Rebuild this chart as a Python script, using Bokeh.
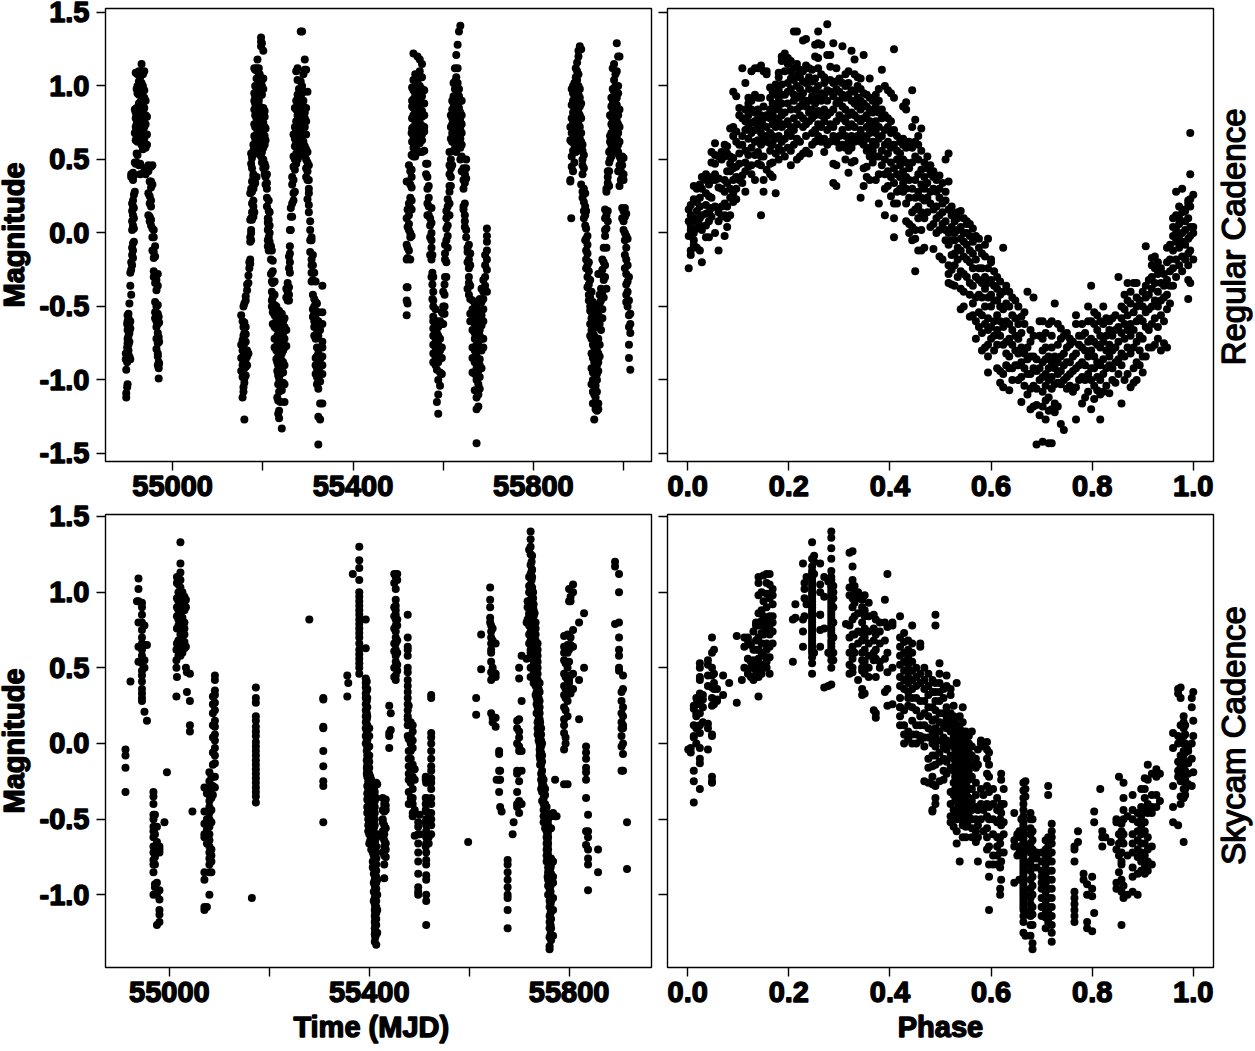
from math import pi

from bokeh.core.properties import value
from bokeh.embed import file_html
from bokeh.layouts import column, row
from bokeh.models import ColumnDataSource, FixedTicker, PrintfTickFormatter
from bokeh.plotting import figure
from bokeh.resources import INLINE

# every entry is (time or phase, [magnitudes at that x])
regular_time_1 = [
    (54896, [-0.86, -0.82]), (54897, [-1.12, -1.09, -0.93]), (54899, [-1.05, -0.88, -0.85, -0.78, -0.62]),
    (54900, [-1.03, -0.75, -0.72, -0.66, -0.60, -0.56]), (54902, [-0.86, -0.80, -0.76, -0.70, -0.64, -0.58, -0.55]),
    (54904, [-0.84, -0.74, -0.68, -0.62, -0.48]), (54906, [-0.86, -0.65, -0.60, -0.36, -0.27]),
    (54908, [-0.42, -0.25, -0.20, 0.40, 0.38]), (54910, [-0.22, -0.15, -0.10, 0.02, 0.08, 0.15, 0.20]),
    (54912, [-0.17, -0.12, -0.07, 0.05, 0.12, 0.18, 0.22, 0.36, 0.41]), (54914, [-0.06, 0.03, 0.10, 0.17, 0.26, 0.39]),
    (54916, [0.28, 0.48, 0.68, 0.84]), (54918, [0.47, 0.63, 0.72, 0.78, 0.82, 1.09]),
    (54920, [0.48, 0.54, 0.66, 0.70, 0.74, 0.79, 0.85, 0.98, 1.09]), (54922, [0.53, 0.62, 0.68, 0.72, 0.76, 0.81, 0.95, 1.00, 1.08]),
    (54925, [0.46, 0.64, 0.69, 0.73, 0.77, 0.83, 0.88, 0.94, 1.03, 1.10]), (54928, [0.40, 0.47, 0.62, 0.66, 0.71, 0.75, 0.80, 0.89, 0.98, 1.06]),
    (54931, [0.60, 0.68, 0.73, 0.78, 0.84, 0.90, 0.96, 1.02, 1.10, 1.15]), (54934, [0.57, 0.66, 0.70, 0.76, 0.82, 0.88, 0.93, 1.00, 1.08]),
    (54937, [0.42, 0.59, 0.64, 0.72, 0.78, 0.85, 0.92, 0.97, 1.10]), (54940, [0.40, 0.44, 0.58, 0.67, 0.74, 0.80, 0.90]),
    (54943, [0.43, 0.60, 0.67, 0.79]), (54946, [0.46, 0.42, 0.12, 0.27]), (54949, [0.35, 0.25, 0.20, 0.11, 0.08]),
    (54952, [0.45, 0.35, 0.31, 0.22, 0.18, 0.09, 0.05]), (54955, [0.46, 0.33, 0.03, -0.03, -0.12]),
    (54958, [0.02, -0.03, -0.13, -0.17, -0.26, -0.30]), (54961, [-0.09, -0.16, -0.29, -0.34, -0.47, -0.54, -0.58]),
    (54964, [-0.32, -0.39, -0.50, -0.60, -0.64, -0.72, -0.79]), (54967, [-0.28, -0.36, -0.49, -0.55, -0.62, -0.68, -0.75, -0.82, -0.84, -0.90]),
    (54969, [-0.99, -0.92, -0.88, -0.71, -0.57]), (54970, [-0.61, -0.74, -0.89]),
]
regular_time_2 = [
    (55152, [-0.56, -0.76, -0.85, -0.94]), (55155, [-1.12, -0.98, -0.90, -0.80, -0.73, -0.60]),
    (55157, [-1.08, -1.05, -0.96, -0.88, -0.84, -0.78, -0.70, -0.64, -0.50]), (55159, [-1.27, -1.02, -0.99, -0.92, -0.82, -0.75, -0.68, -0.61, -0.48]),
    (55162, [-0.97, -0.91, -0.86, -0.80, -0.74, -0.69, -0.64, -0.46, -0.43]), (55165, [-0.90, -0.84, -0.80, -0.39, -0.35]),
    (55168, [-0.82, -0.34, -0.29]), (55170, [-0.24, -0.20]), (55172, [-0.21, -0.18, -0.06, -0.03, 0.09, 0.27]),
    (55174, [-0.05, 0.00, 0.02, 0.10, 0.30, 0.47, 0.54]), (55176, [0.09, 0.14, 0.20, 0.28, 0.35, 0.44, 0.51]),
    (55179, [0.11, 0.18, 0.22, 0.30, 0.38, 0.40, 0.56, 0.60]), (55181, [0.14, 0.33, 0.37, 0.58, 0.66, 0.74, 0.84, 0.90, 0.95, 1.12]),
    (55183, [0.34, 0.58, 0.64, 0.72, 0.80, 0.88, 0.93, 1.00, 1.11]), (55186, [0.38, 0.62, 0.67, 0.73, 0.78, 0.83, 0.90, 0.96, 1.05, 1.12]),
    (55188, [0.54, 0.60, 0.65, 0.70, 0.76, 0.84, 0.87, 0.92, 0.98, 1.10, 1.18]), (55191, [0.58, 0.63, 0.68, 0.72, 0.77, 0.81, 0.90, 0.95, 1.03, 1.12]),
    (55193, [0.56, 0.61, 0.66, 0.71, 0.75, 0.80, 0.86, 0.93, 1.00, 1.08]), (55196, [0.52, 0.60, 0.65, 0.70, 0.74, 0.82, 0.96, 1.05, 1.33, 1.30, 1.27]),
    (55198, [0.48, 0.55, 0.62, 0.68, 0.73, 0.78, 0.94, 1.00, 1.04, 1.29]), (55201, [0.44, 0.50, 0.58, 0.64, 0.69, 0.75, 0.80, 0.85, 0.98, 1.05, 1.24]),
    (55204, [0.40, 0.47, 0.60, 0.66, 0.72, 0.79, 0.83]), (55206, [0.33, 0.38, 0.45, 0.63, 0.71]), (55209, [0.18, 0.24, 0.30, 0.34, 0.40]),
    (55211, [0.10, 0.07, 0.02, -0.05, -0.09]), (55213, [0.22, 0.15, 0.09, 0.04, -0.03, -0.10, -0.12]), (55215, [0.14, 0.05, 0.00, -0.06, -0.11]),
    (55218, [-0.09, -0.18, -0.28]), (55220, [-0.12, -0.27, -0.33, -0.40, -0.46, -0.50]), (55222, [-0.19, -0.26, -0.34, -0.44, -0.54, -0.62]),
    (55226, [-0.33, -0.42, -0.49, -0.56, -0.64, -0.72, -0.78]), (55230, [-0.50, -0.58, -0.65, -0.80, -0.86]),
    (55232, [-0.55, -0.62, -0.70, -0.76, -0.88, -0.94, -1.12]), (55234, [-0.58, -0.66, -0.72, -0.84, -0.90, -0.97, -1.03, -1.14, -1.23]),
    (55236, [-0.53, -0.62, -0.74, -0.80, -0.86, -0.92, -0.99, -1.08, -1.21, -1.26]), (55239, [-0.60, -0.66, -0.78, -0.84, -0.90, -0.96, -1.02, -1.15]),
    (55242, [-0.55, -0.62, -0.70, -0.82, -0.87, -0.93, -1.07, -1.33]), (55245, [-0.60, -0.68, -0.74, -0.80, -0.88, -0.95, -1.02]),
    (55248, [-0.58, -0.64, -0.72, -0.78, -0.90, -1.03, -1.15]), (55252, [-0.38, -0.44, -0.66, -0.77]),
    (55255, [-0.34, -0.40, -0.46]), (55258, [-0.37, -0.42, -0.46, -0.24, -0.16]), (55260, [-0.27, -0.20, -0.09, -0.14, 0.02]),
    (55262, [0.11, 0.17, 0.02]), (55265, [0.20, 0.11, 0.33, 0.38]), (55268, [0.22, 0.27, 0.36, 0.45, 0.52, 0.67]),
    (55271, [0.28, 0.43, 0.50, 0.59, 0.64, 0.72, 0.85]), (55274, [0.47, 0.54, 0.62, 0.70, 0.76, 0.84, 0.90, 1.10]),
    (55277, [0.50, 0.58, 0.66, 0.74, 0.80, 0.87, 0.94, 1.04, 1.12]), (55280, [0.52, 0.64, 0.69, 0.75, 0.82, 0.88, 0.98]),
    (55284, [0.55, 0.60, 0.68, 0.74, 0.78, 0.84, 0.92, 1.03, 1.37]), (55287, [0.60, 0.66, 0.72, 0.77, 0.83, 0.89, 0.95, 1.00, 1.37]),
    (55290, [0.55, 0.62, 0.68, 0.73, 0.80, 0.86, 0.90, 1.08]), (55293, [0.53, 0.59, 0.72, 0.78, 0.82, 1.11, 1.18]),
    (55296, [0.38, 0.44, 0.50, 0.57, 0.67, 0.76, 0.85, 1.11]), (55299, [0.23, 0.36, 0.42, 0.48, 0.55, 0.96]),
    (55302, [0.14, 0.19, 0.27, 0.30, 0.36, 0.46]), (55305, [0.08, 0.02, -0.05, -0.13]), (55308, [-0.03, -0.05, -0.18, -0.22, -0.27, -0.33]),
    (55311, [-0.15, -0.22, -0.32, -0.42, -0.52, -0.57]), (55314, [-0.27, -0.45, -0.50, -0.55, -0.60, -0.64, -0.70]),
    (55317, [-0.33, -0.47, -0.53, -0.58, -0.72, -0.85, -0.90, -0.96]), (55320, [-0.48, -0.62, -0.68, -0.78, -0.84, -0.92, -0.98, -1.03]),
    (55323, [-0.54, -0.60, -0.70, -0.82, -0.88, -0.94, -1.00, -1.06, -1.25, -1.44]), (55327, [-0.62, -0.66, -0.86, -0.91, -0.96, -1.01, -1.16, -1.27]),
    (55332, [-0.36, -0.54, -0.62, -0.74, -0.78, -0.84, -0.90, -0.96, -1.16]),
]
regular_time_3 = [
    (55519, [-0.56, -0.46, -0.37, -0.18, -0.08, 0.10, 0.35]), (55521, [-0.48, -0.37, -0.17, -0.10, 0.04, 0.16]),
    (55524, [-0.12, 0.02, 0.06, 0.12, 0.20, 0.46]), (55527, [-0.18, -0.03, 0.00, 0.17, 0.24, 0.33, 0.42]),
    (55530, [-0.02, 0.16, 0.22, 0.31, 0.38, 0.43, 0.53, 0.68]), (55531, [0.53, 0.62, 0.71, 0.78, 0.86, 0.90, 0.99]),
    (55534, [0.52, 0.58, 0.66, 0.72, 0.80, 0.85, 0.91, 0.97, 1.04, 1.22]), (55538, [0.52, 0.60, 0.65, 0.70, 0.76, 0.82, 0.88, 0.94, 1.00, 1.08]),
    (55543, [0.56, 0.63, 0.68, 0.74, 0.78, 0.84, 0.90, 0.96, 1.03, 1.20]), (55548, [0.55, 0.61, 0.70, 0.75, 0.81, 0.87, 0.92, 1.00, 1.10, 1.18]),
    (55553, [0.55, 0.63, 0.67, 0.73, 0.79, 0.83, 0.93, 0.98, 1.06, 1.15]), (55558, [0.56, 0.69, 0.72, 0.80, 0.88, 0.97]),
    (55562, [0.47, 0.40]), (55565, [0.38, 0.47, 0.30, 0.12, 0.20]), (55568, [0.32, 0.24, 0.18, 0.12]),
    (55571, [0.10, 0.05, -0.03, -0.15]), (55574, [0.17, 0.07, 0.00, -0.05, -0.10, -0.18, -0.30]), (55576, [-0.15, -0.27, -0.35, -0.45]),
    (55578, [-0.30, -0.40, -0.50, -0.57, -0.46, -0.60, -0.65, -0.70, -0.76, -0.82, -0.88]),
    (55583, [-0.52, -0.63, -0.67, -0.72, -0.78, -0.85, -0.90]), (55586, [-0.60, -0.68, -0.74, -0.80, -0.86, -0.93, -1.15]),
    (55589, [-0.64, -0.70, -0.76, -0.82, -0.88, -1.00, -1.10, -1.23]), (55593, [-0.60, -0.72, -0.80, -0.85, -0.95, -1.04]),
    (55597, [-0.54, -0.62, -0.78, -0.96, -0.85]), (55600, [-0.40, -0.50, -0.55, -0.62]), (55603, [-0.35, -0.42, -0.50, -0.55]),
    (55604, [-0.30, -0.18, -0.14, -0.08]), (55607, [-0.30, -0.20, -0.05, 0.03, 0.10, 0.15]), (55610, [-0.10, -0.02, 0.05, 0.12, 0.18, 0.23]),
    (55614, [0.12, 0.20, 0.28, 0.32, 0.40, 0.46, 0.55]), (55617, [0.32, 0.38, 0.44, 0.50, 0.64, 0.72, 0.80]),
    (55620, [0.46, 0.62, 0.68, 0.74, 0.78, 0.84, 0.90]), (55623, [0.56, 0.64, 0.70, 0.76, 0.82, 0.88, 0.93, 1.02]),
    (55626, [0.60, 0.66, 0.72, 0.78, 0.83, 0.90, 0.98, 1.03, 1.12]), (55629, [0.55, 0.62, 0.68, 0.74, 0.80, 0.86, 0.92, 1.00, 1.06, 1.21]),
    (55632, [0.63, 0.70, 0.74, 0.78, 0.84, 0.88, 0.95, 1.02, 1.12, 1.28]), (55635, [0.62, 0.68, 0.72, 0.77, 0.85, 0.93, 0.98, 1.37]),
    (55638, [0.50, 0.58, 0.64, 0.70, 0.76, 0.82, 0.90, 1.41]), (55641, [0.42, 0.52, 0.60, 0.68, 0.74, 0.80, 0.90]),
    (55645, [0.44, 0.36, 0.30, 0.18, 0.16]), (55648, [0.40, 0.34, 0.20, 0.12, 0.08, 0.04]), (55651, [0.50, 0.44, 0.37, 0.02, -0.03]),
    (55654, [-0.10, -0.13, -0.20, -0.38]), (55657, [-0.08, -0.18, -0.24, -0.30, -0.34, -0.42]), (55660, [-0.14, -0.22, -0.36, -0.45, -0.55, -0.60]),
    (55665, [-0.46, -0.52, -0.60, -0.66, -0.78, -0.85, -0.95]), (55670, [-0.48, -0.56, -0.62, -0.68, -0.72, -0.80, -0.88, -0.96, -1.07]),
    (55674, [-0.50, -0.58, -0.65, -0.72, -0.76, -0.84, -0.92, -1.00, -1.12, -1.20, -1.43]), (55678, [-0.54, -0.62, -0.68, -0.74, -0.80, -0.88, -0.94, -1.03, -1.10, -1.18]),
    (55681, [-0.45, -0.55, -0.60, -0.66, -0.70, -0.78, -0.86, -0.90, -0.98, -1.06]), (55685, [-0.38, -0.47, -0.56, -0.63, -0.72, -0.80, -0.92]),
    (55689, [-0.32, -0.40, -0.45, -0.52, -0.60, -0.72, -0.78]), (55693, [-0.15, -0.22, -0.30, -0.36]),
    (55697, [0.03, -0.02, -0.06, -0.12, -0.18, -0.25, -0.40]),
]
regular_time_4 = [
    (55884, [0.10]), (55882, [0.35, 0.36, 0.63, 0.72]), (55885, [0.45, 0.52, 0.62, 0.68, 0.78, 0.87, 0.98]),
    (55888, [0.42, 0.56, 0.64, 0.70, 0.76, 0.82, 0.90, 0.95, 1.00]), (55891, [0.48, 0.60, 0.66, 0.72, 0.79, 0.85, 0.92, 0.96, 1.02]),
    (55894, [0.55, 0.62, 0.68, 0.74, 0.80, 0.87, 0.94, 1.00, 1.06, 1.12]), (55897, [0.58, 0.66, 0.72, 0.78, 0.84, 0.90, 0.98, 1.04, 1.10, 1.16]),
    (55900, [0.62, 0.68, 0.74, 0.82, 0.88, 0.94, 1.00, 1.08, 1.20, 1.24]), (55903, [0.58, 0.64, 0.72, 0.80, 0.86, 0.92, 0.98, 1.27]),
    (55906, [0.33, 0.56, 0.62, 0.68, 0.78, 0.88, 1.25]), (55909, [0.28, 0.24, 0.40, 0.46, 0.50, 0.56, 0.60]),
    (55912, [0.30, 0.21, 0.15, 0.10, 0.44, 0.53]), (55915, [0.27, 0.18, 0.12, 0.05, -0.05]), (55917, [0.15, 0.03, -0.04, -0.12, -0.18, -0.24]),
    (55920, [-0.02, -0.08, -0.14, -0.22, -0.30, -0.37]), (55923, [-0.20, -0.26, -0.35, -0.42, -0.46]),
    (55926, [-0.32, -0.44, -0.50, -0.53, -0.62, -0.70]), (55929, [-0.40, -0.54, -0.58, -0.66, -0.72, -0.82, -0.92, -1.03]),
    (55932, [-0.47, -0.52, -0.60, -0.68, -0.76, -0.85, -0.95, -1.00, -1.08, -1.16]), (55935, [-0.56, -0.62, -0.70, -0.78, -0.82, -0.88, -0.94, -1.02, -1.10, -1.27]),
    (55938, [-0.64, -0.72, -0.80, -0.86, -0.92, -0.98, -1.04, -1.12, -1.20]), (55941, [-0.50, -0.55, -0.74, -0.80, -0.85, -0.90, -0.96, -1.00, -1.08, -1.21]),
    (55944, [-0.28, -0.54, -0.60, -0.72, -0.82, -0.88, -0.94, -1.16, -1.20]), (55947, [-0.42, -0.48, -0.62, -0.76, -0.84]),
    (55950, [-0.28, -0.38, -0.46, -0.58, -0.66]), (55953, [-0.18, -0.25, -0.40, -0.52, -0.58]), (55956, [-0.10, -0.20, -0.32, -0.44]),
    (55959, [0.02, 0.10, 0.16, -0.02, -0.22, -0.30]), (55962, [0.03, 0.12, 0.30, 0.28, -0.10, -0.38]), (55965, [0.08, 0.15, 0.34, 0.42, 0.38]),
    (55968, [0.32, 0.48, 0.42, 0.55]), (55970, [0.50, 0.56, 0.62, 0.66, 0.80]), (55973, [0.52, 0.60, 0.68, 0.74, 0.79, 0.86, 0.92]),
    (55976, [0.54, 0.58, 0.63, 0.72, 0.76, 0.82, 0.88, 0.98, 1.12]), (55979, [0.60, 0.68, 0.74, 0.80, 0.84, 0.90, 0.96, 1.04, 1.15]),
    (55982, [0.66, 0.72, 0.78, 0.83, 0.88, 0.94, 1.00, 1.08]), (55985, [0.58, 0.65, 0.70, 0.76, 0.82, 0.87, 0.92, 1.10, 1.29]),
    (55988, [0.42, 0.55, 0.60, 0.68, 0.74, 0.80, 0.95, 1.00, 1.20]), (55991, [0.46, 0.52, 0.32, 0.62, 0.72, 0.84, 1.20]),
    (55994, [0.36, 0.42, 0.50]), (55997, [0.38, 0.46, 0.52, 0.17, 0.10]), (56000, [0.40, 0.51, 0.36, 0.02, 0.08, 0.15]),
    (56003, [0.17, 0.11, 0.00, -0.05, -0.15, -0.24]), (56006, [0.13, -0.02, -0.10, -0.18, -0.28, -0.35, -0.42, -0.47]),
    (56009, [-0.04, -0.22, -0.33, -0.40, -0.50]), (56012, [-0.30, -0.46, -0.56, -0.64, -0.76, -0.85]),
    (56015, [-0.55, -0.62, -0.68, -0.93]),
]
regular_time = regular_time_1 + regular_time_2 + regular_time_3 + regular_time_4

regular_phase = [
    (0.002, [-0.24, -0.02, 0.08, 0.16]), (0.006, [-0.15, -0.12, 0.02, 0.12, 0.19, 0.05]), (0.012, [0.00, 0.10, 0.23, 0.32, -0.05, -0.08]),
    (0.018, [-0.10, 0.03, 0.08, 0.15, 0.21, 0.30]), (0.024, [-0.12, 0.05, 0.10, 0.18, 0.24, 0.33]), (0.028, [-0.20, 0.02, 0.12, 0.38, 0.30]),
    (0.036, [-0.03, 0.05, 0.13, 0.19, 0.27, 0.36, 0.40]), (0.042, [-0.03, 0.08, 0.14, 0.25, 0.33, 0.38]), (0.047, [0.11, 0.17, 0.24, 0.36, 0.48, 0.55]),
    (0.054, [0.18, 0.00, 0.36, 0.40, 0.47, 0.53, 0.61]), (0.061, [-0.12, 0.08, 0.14, 0.31, 0.37, 0.52]), (0.067, [0.11, 0.18, 0.30, 0.50, 0.55]),
    (0.073, [-0.02, 0.12, 0.20, 0.28, 0.36, 0.52, 0.60]), (0.078, [0.04, 0.10, 0.18, 0.34, 0.42, 0.54, 0.59]), (0.084, [0.12, 0.24, 0.30, 0.42, 0.47, 0.52, 0.71]),
    (0.09, [0.21, 0.27, 0.36, 0.44, 0.51, 0.66, 0.72, 0.96]), (0.096, [0.23, 0.30, 0.38, 0.45, 0.62, 0.69, 0.93]), (0.102, [0.36, 0.47, 0.54, 0.60, 0.80, 0.85]),
    (0.108, [0.34, 0.39, 0.60, 0.66, 0.78, 1.12]), (0.114, [0.28, 0.42, 0.48, 0.56, 0.70, 0.76, 0.84, 1.02]), (0.12, [0.45, 0.53, 0.64, 0.72, 0.80, 0.88, 0.92]),
    (0.126, [0.40, 0.46, 0.58, 0.68, 0.75, 0.84, 0.90, 1.10]), (0.133, [0.36, 0.53, 0.62, 0.70, 0.76, 0.82, 0.94, 1.12]), (0.139, [0.47, 0.55, 0.63, 0.72, 0.78, 0.84, 0.92, 1.12]),
    (0.145, [0.12, 0.46, 0.52, 0.60, 0.68, 0.74, 0.80, 0.92, 1.14]), (0.15, [0.28, 0.36, 0.52, 0.65, 0.73, 0.78, 0.86, 1.10]), (0.156, [0.43, 0.62, 0.66, 0.72, 0.80, 1.08, 1.10]),
    (0.163, [0.40, 0.47, 0.56, 0.61, 0.68, 0.78, 0.84, 0.92, 0.99]), (0.168, [0.38, 0.48, 0.60, 0.66, 0.74, 0.82, 0.88, 0.96]), (0.174, [0.27, 0.54, 0.64, 0.72, 0.78, 0.86, 0.94, 1.01]),
    (0.18, [0.50, 0.58, 0.66, 0.76, 0.84, 0.90, 0.97, 1.09, 1.06]), (0.186, [0.56, 0.62, 0.72, 0.80, 0.88, 0.94, 1.01, 1.20, 1.17]), (0.192, [0.52, 0.64, 0.74, 0.82, 0.94, 1.10, 1.22]),
    (0.198, [0.58, 0.68, 0.76, 0.88, 0.96, 1.02, 1.15, 1.19]), (0.204, [0.46, 0.56, 0.66, 0.72, 0.84, 0.98, 1.05, 1.10, 1.17]), (0.21, [0.60, 0.70, 0.78, 0.90, 0.94, 1.04, 1.12, 1.37]),
    (0.216, [0.50, 0.64, 0.74, 0.84, 0.93, 1.00, 1.07, 1.15, 1.37]), (0.222, [0.52, 0.62, 0.80, 0.86, 0.92, 0.98, 1.06, 1.11]), (0.228, [0.54, 0.72, 0.78, 0.88, 0.95, 1.03, 1.10, 1.31]),
    (0.234, [0.56, 0.66, 0.74, 0.86, 0.90, 1.02, 1.14, 1.32]), (0.24, [0.54, 0.76, 0.82, 0.90, 0.98, 1.06, 1.12]), (0.246, [0.60, 0.68, 0.78, 0.84, 0.93, 1.03, 1.11]),
    (0.252, [0.62, 0.70, 0.80, 0.88, 0.97, 1.05, 1.20, 1.28]), (0.258, [0.66, 0.74, 0.83, 0.92, 1.00, 1.12, 1.19, 1.37, 1.29]), (0.264, [0.62, 0.72, 0.80, 0.90, 0.95, 1.08, 1.28]),
    (0.27, [0.55, 0.64, 0.76, 0.84, 0.94, 1.02, 1.06]), (0.276, [0.60, 0.70, 0.80, 0.90, 0.97, 1.21, 1.42]), (0.282, [0.62, 0.74, 0.82, 0.96, 1.04, 1.21, 1.13]),
    (0.288, [0.47, 0.34, 0.66, 0.72, 0.84, 0.93, 1.02, 1.29]), (0.294, [0.32, 0.46, 0.62, 0.76, 0.88, 0.98, 1.03, 1.12]), (0.3, [0.58, 0.66, 0.80, 0.90, 0.96, 1.05]),
    (0.306, [0.60, 0.70, 0.78, 0.86, 0.94, 1.02, 1.27]), (0.312, [0.50, 0.58, 0.66, 0.76, 0.84, 0.92, 1.00, 1.08]), (0.318, [0.41, 0.56, 0.62, 0.72, 0.80, 0.94, 1.02, 1.10]),
    (0.324, [0.48, 0.58, 0.66, 0.74, 0.82, 0.90, 0.97, 1.24]), (0.33, [0.49, 0.62, 0.72, 0.80, 0.88, 0.96, 1.18, 1.08]), (0.336, [0.66, 0.78, 0.86, 0.92, 1.00, 1.06]),
    (0.342, [0.24, 0.62, 0.70, 0.76, 0.84, 0.90, 0.98, 1.05]), (0.348, [0.44, 0.32, 0.60, 0.66, 0.78, 0.88, 0.95, 1.21]), (0.354, [0.38, 0.45, 0.56, 0.64, 0.72, 0.80, 0.86, 0.94]),
    (0.36, [0.36, 0.52, 0.58, 0.68, 0.76, 0.84, 0.92, 1.05]), (0.366, [0.48, 0.56, 0.62, 0.72, 0.82, 0.90]), (0.372, [0.36, 0.52, 0.60, 0.68, 0.76, 0.86, 0.94]),
    (0.378, [0.20, 0.40, 0.52, 0.64, 0.72, 0.82, 0.90, 0.98]), (0.384, [0.46, 0.56, 0.66, 0.78, 0.84, 1.11]), (0.39, [0.12, 0.30, 0.40, 0.50, 0.60, 0.70, 0.80, 1.00]),
    (0.396, [0.32, 0.42, 0.54, 0.62, 0.72, 0.78, 0.97]), (0.402, [0.25, 0.38, 0.48, 0.58, 0.68, 0.76, 0.95]), (0.408, [-0.03, 0.10, 0.20, 0.34, 0.44, 0.60, 0.70, 0.92, 1.25]),
    (0.414, [0.20, 0.28, 0.40, 0.50, 0.56, 0.66]), (0.42, [0.30, 0.38, 0.46, 0.54, 0.62]), (0.426, [0.28, 0.34, 0.42, 0.50, 0.60, 0.64, 0.86]),
    (0.432, [0.08, 0.20, 0.30, 0.38, 0.48, 0.58, 0.84, 0.89]), (0.438, [0.00, 0.06, 0.24, 0.36, 0.44, 0.62]), (0.444, [0.04, -0.05, 0.14, 0.30, 0.48, 0.58, 0.72, 0.97]),
    (0.45, [-0.26, -0.04, 0.02, 0.16, 0.24, 0.36, 0.52, 0.62, 0.77]), (0.456, [-0.12, 0.10, 0.18, 0.28, 0.40, 0.50, 0.60, 0.66]), (0.462, [-0.12, 0.02, 0.14, 0.24, 0.33, 0.43, 0.56, 0.71]),
    (0.468, [-0.10, 0.10, 0.22, 0.30, 0.38, 0.48]), (0.474, [0.14, 0.24, 0.34, 0.44, 0.52]), (0.48, [0.04, 0.20, 0.28, 0.40, 0.46]),
    (0.486, [-0.11, 0.06, 0.16, 0.30, 0.38, 0.42]), (0.492, [0.00, 0.10, 0.18, 0.28, 0.36]), (0.498, [-0.16, 0.02, 0.12, 0.24, 0.30, 0.39]),
    (0.504, [-0.18, 0.06, 0.14, 0.20, 0.34]), (0.51, [-0.05, 0.02, 0.08, 0.22, 0.28, 0.50]), (0.516, [-0.22, -0.28, -0.34, -0.08, 0.00, 0.16, 0.35, 0.54]),
    (0.522, [-0.15, -0.25, -0.35, -0.05, 0.04, 0.12, 0.18, 0.14]), (0.528, [-0.05, -0.14, -0.22, -0.36, 0.00, 0.08, 0.10]), (0.534, [-0.18, -0.30, -0.10, 0.02, 0.10, 0.14]),
    (0.54, [-0.52, -0.38, -0.26, -0.12, -0.04, 0.04, 0.15]), (0.546, [-0.50, -0.40, -0.28, -0.16, -0.06, 0.00, 0.10]), (0.552, [-0.30, -0.18, -0.08, 0.00, 0.08, 0.06]),
    (0.558, [-0.57, -0.42, -0.34, -0.20, -0.12, -0.02, 0.06]), (0.564, [-0.56, -0.48, -0.36, -0.24, -0.14, -0.06, 0.03]), (0.57, [-0.72, -0.60, -0.44, -0.30, -0.18, -0.02]),
    (0.576, [-0.64, -0.54, -0.42, -0.32, -0.24, -0.10, -0.04]), (0.582, [-0.80, -0.68, -0.56, -0.44, -0.34, -0.24, -0.14]), (0.588, [-0.78, -0.62, -0.50, -0.38, -0.30, -0.16, -0.08]),
    (0.594, [-0.95, -0.84, -0.76, -0.66, -0.58, -0.44, -0.34, -0.24, -0.04]), (0.6, [-0.72, -0.64, -0.50, -0.42, -0.32, -0.20, -0.18]), (0.606, [-0.80, -0.70, -0.60, -0.46, -0.36, -0.26]),
    (0.612, [-0.92, -0.76, -0.66, -0.56, -0.46, -0.38, -0.30]), (0.618, [-1.02, -0.94, -0.70, -0.60, -0.50, -0.42, -0.33]), (0.624, [-1.05, -0.96, -0.76, -0.64, -0.52, -0.40, -0.10]),
    (0.63, [-0.90, -0.82, -0.74, -0.60, -0.48, -0.36]), (0.636, [-1.07, -0.92, -0.84, -0.72, -0.62, -0.50, -0.40]), (0.642, [-1.00, -0.92, -0.76, -0.66, -0.56, -0.44]),
    (0.648, [-0.90, -0.80, -0.70, -0.58, -0.46]), (0.654, [-1.00, -0.90, -0.82, -0.72, -0.62, -0.50]), (0.66, [-1.15, -0.98, -0.88, -0.78, -0.68, -0.57]),
    (0.666, [-1.04, -0.92, -0.82, -0.62, -0.54]), (0.672, [-1.10, -0.96, -0.86, -0.78, -0.40]), (0.678, [-1.20, -1.06, -0.96, -0.84, -0.74, -0.66]),
    (0.684, [-1.18, -1.04, -0.92, -0.84, -0.70, -0.44]), (0.69, [-1.44, -1.17, -1.06, -0.94, -0.86]), (0.696, [-1.24, -1.00, -0.92, -0.70, -0.60]),
    (0.702, [-1.42, -1.18, -1.08, -0.98, -0.88, -0.80, -0.72, -0.60]), (0.708, [-1.27, -1.14, -1.04, -0.96, -0.86, -0.78, -0.68]), (0.714, [-1.43, -1.21, -1.12, -1.00, -0.92, -0.84, -0.62]),
    (0.72, [-1.43, -1.20, -1.06, -0.98, -0.88, -0.78, -0.70, -0.60]), (0.726, [-1.22, -1.16, -1.03, -0.92, -0.84, -0.48]), (0.732, [-1.18, -1.02, -0.96, -0.88, -0.76, -0.62]),
    (0.738, [-1.30, -1.03, -0.94, -0.84, -0.72, -0.65]), (0.744, [-1.34, -1.00, -0.90, -0.82, -0.70]), (0.75, [-1.06, -0.98, -0.88, -0.78, -0.68]),
    (0.756, [-1.04, -0.96, -0.88, -0.76, -0.72]), (0.762, [-1.08, -0.94, -0.84, -0.74]), (0.768, [-1.27, -1.05, -0.92, -0.82, -0.56, -0.62]),
    (0.774, [-1.00, -0.90, -0.76, -0.70]), (0.78, [-1.16, -0.98, -0.88, -0.78, -0.70, -0.62]), (0.786, [-1.12, -1.00, -0.90, -0.80, -0.68]),
    (0.792, [-1.08, -0.96, -0.84, -0.74, -0.60, -0.50]), (0.798, [-1.20, -1.00, -0.92, -0.80, -0.72, -0.60, -0.36]), (0.804, [-1.13, -1.04, -0.92, -0.84, -0.74, -0.62, -0.54]),
    (0.81, [-1.07, -0.98, -0.88, -0.76, -0.66, -0.56]), (0.816, [-1.27, -1.10, -1.00, -0.90, -0.78, -0.70, -0.60]), (0.822, [-1.08, -0.96, -0.86, -0.74, -0.62, -0.50]),
    (0.828, [-1.04, -0.92, -0.80, -0.70, -0.58]), (0.834, [-1.09, -0.90, -0.84, -0.76, -0.66, -0.60]), (0.84, [-1.00, -0.92, -0.80, -0.70, -0.58]),
    (0.846, [-1.02, -0.88, -0.78, -0.66, -0.56]), (0.852, [-0.96, -0.86, -0.74, -0.64, -0.30]), (0.858, [-1.16, -0.90, -0.82, -0.68, -0.58, -0.50]),
    (0.864, [-1.00, -0.84, -0.72, -0.62, -0.52, -0.42]), (0.87, [-0.96, -0.78, -0.66, -0.56, -0.46, -0.34]), (0.876, [-1.05, -0.82, -0.70, -0.62, -0.48, -0.40]),
    (0.882, [-1.02, -0.92, -0.78, -0.66, -0.54, -0.34]), (0.888, [-1.00, -0.88, -0.74, -0.60, -0.50, -0.44, -0.34]), (0.894, [-0.90, -0.80, -0.70, -0.58, -0.46]),
    (0.9, [-0.95, -0.84, -0.72, -0.60, -0.50, -0.40]), (0.906, [-0.09, -0.84, -0.64, -0.54, -0.44, -0.36]), (0.912, [-0.78, -0.66, -0.52, -0.42, -0.32]),
    (0.918, [-0.78, -0.62, -0.50, -0.38, -0.30, -0.22, -0.17]), (0.924, [-0.76, -0.58, -0.46, -0.34, -0.24, -0.16]), (0.93, [-0.72, -0.64, -0.50, -0.40, -0.28, -0.20]),
    (0.936, [-0.80, -0.56, -0.46, -0.34, -0.24]), (0.942, [-0.75, -0.60, -0.44, -0.36, -0.28]), (0.948, [-0.78, -0.52, -0.42, -0.32, -0.20, -0.10]),
    (0.954, [-0.48, -0.36, -0.26, -0.18, -0.08]), (0.96, [-0.36, -0.24, -0.12, -0.02, 0.10, 0.04]), (0.966, [-0.30, -0.18, -0.06, 0.02, 0.12, 0.28]),
    (0.972, [-0.22, -0.10, -0.02, 0.06, 0.10, 0.18]), (0.978, [-0.26, -0.16, -0.06, 0.00, 0.14, 0.30]), (0.984, [-0.18, -0.08, 0.02, 0.08, 0.15, 0.16]),
    (0.99, [-0.45, -0.32, -0.22, -0.14, -0.04, 0.10, 0.20, 0.22]), (0.994, [-0.34, -0.12, -0.02, 0.04, 0.18, 0.23, 0.40, 0.68]), (1.0, [-0.18, 0.00, 0.04, 0.26]),
]

skycam_time = [
    (54912, [-0.04, -0.08, -0.16, -0.32]), (54922, [0.41]), (54935, [0.94]), (54938, [1.09, 1.02, 0.94, 0.80, 0.54, 0.64]),
    (54945, [0.93, 0.90, 0.85, 0.80, 0.75, 0.70, 0.66, 0.62, 0.58, 0.53, 0.48, 0.45, 0.41, 0.36, 0.33, 0.30, 0.28]),
    (54950, [0.78, 0.65, 0.55, 0.50, 0.21]), (54955, [0.65, 0.15]), (54968, [-0.32, -0.35, -0.40, -0.47, -0.50, -0.55, -0.58, -0.62, -0.68, -0.72, -0.77, -0.80, -0.85, -1.00]),
    (54971, [-0.47, -0.55, -0.60, -0.70, -0.75, -0.80, -0.95, -0.93]), (54975, [-0.92, -1.00, -0.70, -0.65, -0.55, -1.20]),
    (54980, [-0.68, -0.70, -0.72, -0.97, -1.03, -1.10, -1.13, -1.18]), (54990, [-0.52]), (54995, [-0.19]),
    (55014, [0.31, 0.50, 0.55, 0.62]), (55015, [0.44, 0.66, 0.76, 0.84, 0.90, 0.96, 1.06, 1.10]), (55018, [0.58, 0.62, 0.68, 0.78, 0.82, 0.88, 0.94, 1.00, 1.05, 1.10]),
    (55022, [0.58, 0.62, 0.66, 0.72, 0.77, 0.82, 0.86, 0.91, 0.95, 0.99, 1.03, 1.08, 1.13, 1.19, 1.33]), (55026, [0.60, 0.64, 0.68, 0.74, 0.78, 0.83, 0.88, 0.92, 0.96, 1.00]),
    (55030, [0.63, 0.67, 0.72, 0.76, 0.80, 0.88, 0.93, 0.97]), (55033, [0.50, 0.64, 0.90, 0.95]), (55035, [0.47, 0.34]), (55041, [0.46, 0.28, 0.12, 0.08]), (55046, [-0.45]),
    (55070, [-1.10, -1.08, -0.90, -0.85, -0.62, -0.60, -0.53, -0.45, -0.29]), (55075, [-0.66, -0.62, -0.57, -0.50, -0.30, -0.33, -1.08]),
    (55080, [-1.00, -0.85, -0.80, -0.76, -0.72, -0.68, -0.64, -0.60, -0.55, -0.50, -0.46, -0.42, -0.38, -0.34, -0.30, -0.25, -0.19]),
    (55084, [-0.85, -0.78, -0.74, -0.70, -0.52, -0.44, -0.36, -0.30, -0.22]), (55087, [-0.28, -0.34, -0.22, -0.14, -0.06, 0.04, 0.12, 0.20, 0.26, 0.31]),
    (55091, [0.45, 0.42, 0.35, 0.32, 0.27, 0.22, 0.15, 0.11, 0.06, 0.02, -0.03, -0.08, -0.13, -0.22, -0.29]),
    (55165, [-1.02]), (55173, [0.37, 0.30, 0.27, 0.18, 0.15, 0.11, 0.08, 0.05, 0.01, -0.02, -0.05, -0.08, -0.11, -0.14, -0.17, -0.20, -0.23, -0.26, -0.29, -0.32, -0.35, -0.39]),
    (55280, [0.82]), (55308, [0.30, 0.29, 0.11, 0.10, -0.05, -0.15, -0.25, -0.28, -0.52]),
    (55356, [0.45, 0.31]), (55358, [0.40]), (55367, [1.12]),
    (55380, [1.30, 1.21, 1.16, 1.08, 1.00, 0.97, 0.94, 0.91, 0.88, 0.85, 0.82, 0.79, 0.76, 0.73, 0.70, 0.66, 0.62, 0.59, 0.56, 0.53, 0.50, 0.46]),
    (55393, [0.82, 0.63, 0.43, 0.40, 0.37, 0.33, 0.30, 0.26, 0.22, 0.18, 0.14, 0.10, 0.05, 0.00]),
    (55395, [0.41, 0.35, 0.28, 0.20, 0.16, 0.08, 0.03, -0.05, -0.11, -0.16, -0.20]),
    (55396, [0.36, 0.30, 0.24, 0.18, 0.12, 0.06, 0.02, -0.03, -0.08, -0.14, -0.18, -0.22, -0.28, -0.33, -0.37, -0.42, -0.46]),
    (55398, [-0.10, -0.15, -0.25, -0.30, -0.34, -0.38, -0.44, -0.50, -0.54, -0.58]),
    (55400, [0.10, 0.05, -0.02, -0.08, -0.12, -0.16, -0.20, -0.24, -0.28, -0.32, -0.36, -0.40, -0.44, -0.48, -0.52, -0.56, -0.60, -0.66]),
    (55402, [-0.22, -0.26, -0.30, -0.36, -0.40, -0.46, -0.50, -0.54, -0.60, -0.64]),
    (55404, [-0.24, -0.28, -0.34, -0.38, -0.42, -0.46, -0.50, -0.54, -0.58, -0.62, -0.66, -0.70]),
    (55407, [-0.26, -0.30, -0.36, -0.40, -0.44, -0.48, -0.52, -0.56, -0.60, -0.64, -0.68, -0.72, -0.78, -0.82]),
    (55409, [-0.32, -0.38, -0.44, -0.50, -0.56, -0.62, -0.68, -0.74, -0.80, -0.86, -0.92, -0.98, -1.04]),
    (55411, [-0.28, -0.32, -0.38, -0.42, -0.46, -0.50, -0.54, -0.60, -0.66, -0.70, -0.74, -0.78, -0.82, -0.86, -0.90, -0.94, -0.98, -1.02, -1.06, -1.10, -1.14, -1.18, -1.22, -1.26, -1.31]),
    (55412, [-0.64, -0.72, -0.76, -0.84, -0.88, -0.92, -0.96, -1.00, -1.04, -1.08, -1.12, -1.16, -1.20, -1.24, -1.28]),
    (55414, [-0.26, -0.36, -0.62, -0.68, -0.72, -0.76, -0.80, -0.84, -0.88, -0.92, -0.96, -1.00, -1.04, -1.08, -1.12, -1.16, -1.20, -1.26, -1.33]),
    (55416, [-0.27, -0.60, -0.90, -1.00, -1.10, -1.25]), (55427, [-0.36, -0.44, -0.50, -0.52, -0.58, -0.62, -0.72]), (55430, [-0.40, -0.45, -0.54, -0.60, -0.64, -0.68, -0.74, -0.80, -0.89]),
    (55433, [-0.37, -0.41, -0.44, -0.56, -0.66, -0.70, -0.75]), (55440, [0.25, -0.03, 0.07, 0.05]), (55443, [0.20, 0.09]),
    (55450, [1.12, 1.06, 0.90, 0.84, 0.76, 0.66, 0.61, 0.50, 0.44]), (55453, [1.12, 1.10, 1.02, 0.95, 0.91, 0.88, 0.85, 0.82, 0.78, 0.74, 0.70, 0.66, 0.62, 0.58, 0.54, 0.50, 0.45, 0.42]),
    (55456, [1.12, 1.08, 0.82, 0.78, 0.68, 0.60, 0.52, 0.48]), (55477, [0.85, 0.70, 0.64, 0.62, 0.58, 0.50, 0.47, 0.42, 0.38, 0.34, 0.30, 0.26, 0.22, 0.18, 0.16, 0.12, 0.05]),
    (55479, [0.25, 0.03, -0.05, -0.10, -0.15, -0.20, -0.24, -0.32, -0.40]), (55483, [0.14, 0.05, 0.00, -0.05, -0.10, -0.16, -0.26, -0.36]),
    (55487, [0.12, 0.08, 0.02, -0.03, -0.14, -0.22, -0.30, -0.36, -0.40, -0.46, -0.48]), (55491, [-0.17, -0.24, -0.44, -0.61]),
    (55498, [-0.52, -0.55, -0.60, -0.66, -0.72, -0.78, -0.86, -0.95, -0.98, -1.00]), (55501, [-0.47, -0.60]),
    (55513, [-0.24, -0.22, -0.36, -0.40, -0.44, -0.52, -0.60, -0.68]), (55514, [-0.26, -0.36, -0.40, -0.45, -0.50, -0.54, -0.58, -0.62, -0.66, -0.72, -0.77, -0.80, -0.87, -0.90, -1.00, -1.04, -1.20]),
    (55519, [-0.24, -0.38, -0.46, -0.54, -0.62, -0.66]), (55524, [0.32, 0.30, 0.07, 0.04, 0.00, -0.05, -0.10, -0.15, -0.18, -0.23, -0.26, -0.30, -0.36, -0.40, -0.46, -0.50, -0.54, -0.60]),
    (55598, [-0.65]), (55614, [0.30, 0.19]), (55624, [0.72, 0.49]), (55642, [1.03, 0.95, 0.90, 0.83, 0.80]),
    (55644, [0.78, 0.74, 0.70, 0.66, 0.62, 0.60, 0.54, 0.47, 0.42, 0.20]), (55647, [0.76, 0.68, 0.50, 0.48, 0.44, 0.17, 0.14]), (55653, [0.66, 0.44, 0.46, 0.17, 0.11]),
    (55660, [-0.05, -0.07, -0.18, -0.32, -0.24]), (55655, [-0.24]), (55662, [-0.18, -0.24, -0.42]), (55665, [-0.45]),
    (55677, [-0.77, -0.80, -0.85, -0.90, -0.95, -1.00, -1.02, -1.10, -1.22]), (55687, [-0.60]), (55689, [-0.52]),
    (55696, [-0.42, -0.40, -0.32, -0.18, -0.20, 0.15, 0.10, 0.00]), (55700, [-0.46, -0.38, -0.25, -0.05, -0.02, 0.50, 0.43, 0.16, 0.08, 0.04]),
    (55705, [-0.05, -0.40, -0.18, 0.28, 0.58]), (55715, [0.56, 0.80]), (55717, [0.82, 0.94, 0.90]),
    (55720, [0.66, 0.72, 0.78, 0.84, 0.90, 1.00, 1.04, 1.10, 1.28, 0.94, 0.86]), (55723, [0.62, 0.68, 0.74, 0.80, 0.85, 0.90, 0.95, 1.00, 1.05, 1.12, 1.18, 1.25, 1.30, 1.35, 1.40, 0.50, 0.44, 0.60]),
    (55725, [0.70, 0.76, 0.82, 0.87, 0.93, 0.98, 1.02, 1.08, 1.14, 1.20]), (55726, [0.56, 0.60, 0.64, 0.68, 0.72, 0.78, 0.84, 0.89, 0.93, 0.98, 1.03, 1.10, 1.15, 1.24]),
    (55728, [0.50, 0.58, 0.66, 0.70, 0.76, 0.82, 0.86, 0.90, 0.96, 1.00]), (55729, [0.40, 0.46, 0.52, 0.56, 0.60, 0.64, 0.70, 0.74, 0.78, 0.84, 0.88, 0.92, 0.74]),
    (55731, [0.42, 0.48, 0.54, 0.58, 0.66, 0.72, 0.80, 0.86]), (55733, [0.32, 0.38, 0.44, 0.48, 0.52, 0.56, 0.60, 0.64, 0.68, 0.72, 0.76, 0.80]),
    (55735, [0.20, 0.26, 0.30, 0.34, 0.40, 0.46, 0.50, 0.54, 0.60]), (55737, [0.06, 0.10, 0.14, 0.20, 0.24, 0.28, 0.32, 0.38, 0.42, 0.46, 0.50, 0.54, 0.58, 0.62, 0.66]),
    (55739, [0.02, 0.08, 0.16, 0.22, 0.30, 0.36]), (55741, [-0.08, -0.04, 0.00, 0.04, 0.08, 0.12, 0.16, 0.20, 0.24, 0.28, 0.34, 0.40]), (55742, [-0.14, -0.10, -0.06, -0.02, 0.06, 0.10, 0.14]),
    (55744, [-0.30, -0.24, -0.20, -0.14, -0.10, -0.06, -0.02, 0.02, 0.06, 0.10]), (55746, [-0.38, -0.32, -0.26, -0.22, -0.18, -0.12, -0.08, 0.00, -0.28]), (55749, [-0.52, -0.48, -0.44, -0.40, -0.36, -0.32, -0.28, -0.24]),
    (55752, [-0.56, -0.52, -0.48, -0.44, -0.40, -0.34, -0.30]), (55755, [-0.78, -0.74, -0.70, -0.66, -0.62, -0.58, -0.54, -0.50, -0.46, -0.42]), (55757, [-0.88, -0.76, -0.72, -0.68, -0.64, -0.60, -0.56, -0.52]),
    (55758, [-0.90, -0.85, -0.82, -0.78, -0.74, -0.70, -0.66, -0.62, -0.58, -0.54, -0.50, -0.94, -1.00]), (55761, [-1.36, -1.34, -1.28, -1.22, -1.18, -1.14, -1.08, -1.04, -1.00, -0.96, -0.92, -0.88, -0.84, -0.80, -0.76]),
    (55763, [-1.26, -1.20, -1.12, -1.06, -1.02, -0.98, -0.94, -0.90, -0.82]), (55764, [-1.30, -1.22, -1.16, -1.10, -1.04, -0.92, -0.86, -0.80, -0.76, -0.56, -0.48]), (55768, [-1.27, -1.10, -1.02, -0.92, -0.88, -0.78, -0.46]),
    (55772, [-0.48, -0.24]), (55775, [-0.48]), (55790, [0.71, 0.64, 0.60, 0.55, 0.46, 0.38, 0.32, 0.24, 0.16, 0.12, 0.07, -0.04, -0.27]),
    (55793, [0.62, 0.53, 0.44, 0.36, 0.30, 0.22, 0.04, 0.00]), (55797, [0.72, 0.65, 0.60, 0.50, 0.42, 0.36, 0.28, 0.18, -0.27]),
    (55800, [1.02, 0.94, 0.62, 0.54, 0.40, 0.33, 0.42]), (55803, [0.97, 0.94, 0.70, 0.65, 0.45, 0.33]), (55808, [1.05, 1.00, 0.75, 0.64, 0.46, 0.36]),
    (55820, [0.80, 0.16, 0.42]), (55830, [0.86, 0.50]), (55834, [-0.02, -0.06, -0.10, -0.16, -0.19, -0.24, -0.36, -0.58, -0.67]),
    (55838, [-0.47, -0.58, -0.62, -0.70, -0.80, -0.76, -0.97]), (55858, [-0.70, -0.85]), (55892, [1.20, 1.17, 0.79]),
    (55900, [0.48, 1.12, 1.00, 0.80, 0.70, 0.62, 0.58, 0.50]), (55905, [0.34, 0.28, 0.20, 0.14, 0.05, 0.10, -0.18, -0.02]),
    (55908, [0.45, 0.36, 0.24, 0.18, 0.12, 0.10, 0.00, -0.07, -0.18]), (55916, [-0.52, -0.83]),
]

skycam_phase = [
    (0.001, [-0.04]), (0.006, [-0.03, -0.06]), (0.012, [-0.39, -0.25, -0.18, 0.04, 0.05, 0.12, 0.25, 0.23]), (0.017, [0.00, 0.10, 0.18, 0.20, 0.30, 0.26]),
    (0.024, [0.53, 0.50, 0.44, 0.42, 0.33, 0.30, 0.26, 0.20, 0.12, 0.07, -0.03, -0.10, -0.13, -0.30]), (0.03, [0.32, 0.29, 0.24, 0.14]),
    (0.04, [0.55, 0.52, 0.45, 0.38, 0.13, -0.04, 0.10]), (0.048, [0.70, 0.60, 0.50, 0.45, 0.37, 0.30, 0.25, 0.05, -0.22, -0.25, -0.26, 0.06]),
    (0.052, [0.62, 0.46, 0.40, 0.36, 0.26]), (0.058, [0.36, 0.29, 0.28]), (0.07, [0.45, 0.32]), (0.082, [0.40]), (0.097, [0.71, 0.27]),
    (0.107, [0.42]), (0.112, [0.70, 0.64, 0.50]), (0.119, [0.70, 0.68, 0.56, 0.46]), (0.125, [0.65, 0.54, 0.50, 0.44]), (0.13, [0.62, 0.74, 0.55, 0.50, 0.44, 0.42]),
    (0.135, [0.78, 0.68, 0.62, 0.52, 0.48, 0.44, 0.80]), (0.14, [1.10, 1.06, 0.98, 0.86, 0.78, 0.70, 0.62, 0.56, 0.50, 0.44, 0.31]),
    (0.146, [1.00, 0.88, 0.81, 0.73, 0.66, 0.60, 0.52, 0.46]), (0.15, [1.11, 0.94, 0.84, 0.78, 0.72, 0.58, 0.50]), (0.156, [1.12, 1.06, 0.99, 0.90, 0.82, 0.76, 0.66, 0.62, 0.54, 0.50]),
    (0.162, [1.12, 1.05, 0.96, 0.84, 0.78, 0.72, 0.64, 0.57, 0.46]), (0.168, [1.02, 0.98, 0.92, 0.84, 0.80, 0.74, 0.66]),
    (0.208, [0.82, 0.54]), (0.213, [0.83, 0.92]), (0.228, [0.82, 0.74, 0.64, 1.19]), (0.231, [1.06, 1.02, 0.96, 0.84]), (0.235, [1.10, 0.92]),
    (0.246, [1.33, 1.22, 1.17, 1.14, 1.12, 1.10, 1.08, 1.06, 1.04, 1.02, 1.00, 0.98, 0.96, 0.94, 0.92, 0.90, 0.88, 0.86, 0.84, 0.82, 0.80, 0.78, 0.76, 0.74, 0.72, 0.70, 0.68, 0.66, 0.64, 0.62, 0.60, 0.57, 0.53, 0.46]),
    (0.25, [1.24, 1.20, 1.12, 0.60]), (0.262, [1.19, 1.05, 1.00, 0.85, 0.75, 0.64, 0.85]), (0.27, [1.10, 0.97, 0.76, 0.37]),
    (0.278, [1.07, 0.60, 0.38]), (0.284, [1.40, 1.36, 1.29, 1.22, 1.14, 1.10, 1.08, 1.06, 1.04, 1.03, 1.01, 0.99, 0.97, 0.95, 0.93, 0.91, 0.89, 0.87, 0.85, 0.83, 0.81, 0.79, 0.77, 0.75, 0.73, 0.71, 0.68, 0.66, 0.64, 0.62, 0.60, 0.58, 0.55, 0.50, 0.39]),
    (0.288, [1.04, 1.00, 0.96, 0.90, 0.80, 0.70, 0.60, 0.55]), (0.313, [0.79]), (0.32, [1.26, 1.03, 0.98, 0.78, 0.70, 0.60, 0.52, 0.46]), (0.326, [1.27, 1.17, 1.08, 1.04, 0.96, 0.90, 0.82, 0.72, 0.64, 0.56, 0.50, 0.47]),
    (0.33, [1.04, 1.00, 0.93, 0.84, 0.72, 0.60]), (0.337, [1.00, 0.96, 0.86, 0.74, 0.66, 0.42]), (0.345, [0.95, 0.90, 0.80, 0.73, 0.68, 0.60, 0.55, 0.50, 0.48, 0.36, 0.32]),
    (0.35, [0.98, 0.88, 0.84, 0.76, 0.70, 0.62, 0.54, 0.46, 0.33]), (0.358, [0.93, 0.84, 0.74, 0.66, 0.58, 0.50, 0.44]), (0.368, [0.85, 0.76, 0.68, 0.60, 0.55, 0.22]),
    (0.372, [0.82, 0.72, 0.62, 0.56, 0.44, 0.20, 0.17]), (0.38, [0.80, 0.74, 0.66, 0.54, 0.50]), (0.39, [0.95, 0.80, 0.68, 0.56, 0.34]),
    (0.395, [1.12, 0.77, 0.60, 0.47, 0.25, 0.36]), (0.405, [0.78, 0.50, 0.26, 0.80]), (0.42, [0.84, 0.70, 0.64, 0.58, 0.52, 0.44, 0.38, 0.30, 0.24, 0.18, 0.12, 0.24]),
    (0.428, [0.73, 0.67, 0.60, 0.54, 0.48, 0.42, 0.36, 0.22, 0.12, 0.06, 0.00]), (0.436, [0.68, 0.62, 0.57, 0.52, 0.48, 0.44, 0.40, 0.34, 0.30, 0.25, 0.08, 0.03]),
    (0.444, [0.78, 0.66, 0.60, 0.54, 0.48, 0.42, 0.36, 0.30, 0.24, 0.15, 0.06, 0.00]), (0.452, [0.50, 0.44, 0.38, 0.30, 0.22, 0.12, 0.06, 0.00]),
    (0.46, [0.64, 0.66, 0.46, 0.40, 0.28, 0.18, 0.12, 0.05, 0.02]), (0.468, [0.50, 0.42, 0.36, 0.28, 0.20, 0.12, 0.04, -0.02, -0.25]),
    (0.476, [0.46, 0.38, 0.32, 0.24, 0.18, 0.10, 0.04, -0.10, -0.16, -0.26]), (0.484, [0.42, 0.34, 0.24, 0.15, 0.08, 0.00, -0.08, -0.15, -0.22, -0.45, -0.44, -0.27]),
    (0.49, [0.85, 0.78, 0.40, 0.34, 0.28, 0.22, 0.16, 0.10, 0.04, -0.02, -0.08, -0.14, -0.28, -0.36, -0.40]), (0.498, [0.53, 0.46, 0.40, 0.34, 0.28, 0.20, 0.14, 0.08, 0.02, -0.06, -0.12, -0.25]),
    (0.506, [0.36, 0.30, 0.20, 0.12, 0.04, -0.02, -0.10, -0.18, -0.24]), (0.512, [0.45, 0.38, 0.24, 0.16, 0.10, 0.02, -0.04, -0.12, -0.20]),
    (0.52, [0.36, 0.32, 0.20, 0.14, 0.08, 0.00, -0.08, -0.16, -0.32, -0.40, -0.48, -0.52]), (0.526, [0.25, 0.18, 0.10, 0.04, -0.02, -0.10, -0.18, -0.26, -0.34, -0.44, -0.55]),
    (0.529, [0.16, 0.06, -0.04, -0.14, -0.22, -0.30, -0.38, -0.46]), (0.532, [0.40, 0.12, 0.06, 0.00, -0.06, -0.12, -0.18, -0.24, -0.30, -0.36, -0.44, -0.50, -0.66, -0.58]),
    (0.535, [0.08, 0.02, -0.04, -0.10, -0.16, -0.22, -0.28, -0.34, -0.40, -0.46]), (0.538, [0.18, 0.10, 0.04, -0.02, -0.08, -0.14, -0.20, -0.26, -0.32, -0.38, -0.44, -0.50, -0.78]),
    (0.541, [0.06, 0.00, -0.06, -0.12, -0.18, -0.24, -0.30, -0.36, -0.42, -0.48]), (0.544, [0.24, 0.14, 0.08, 0.02, -0.04, -0.10, -0.16, -0.22, -0.28, -0.34, -0.40, -0.46, -0.54, -0.62]),
    (0.547, [0.02, -0.02, -0.08, -0.14, -0.20, -0.26, -0.32, -0.38, -0.44, -0.50]), (0.55, [0.08, 0.03, -0.03, -0.09, -0.15, -0.21, -0.27, -0.33, -0.39, -0.45, -0.55, -0.62]),
    (0.553, [0.00, -0.05, -0.11, -0.17, -0.23, -0.29, -0.35, -0.41, -0.47, -0.53]), (0.556, [0.05, 0.00, -0.06, -0.12, -0.18, -0.24, -0.30, -0.36, -0.42, -0.48]), (0.562, [0.08, -0.02, -0.08, -0.14, -0.22, -0.30, -0.38, -0.44, -0.50, -0.56, -0.62]),
    (0.57, [-0.10, -0.16, -0.26, -0.34, -0.42, -0.50, -0.58, -0.65]), (0.574, [-0.04, -0.14, -0.44, -0.54, -0.62, -0.78]), (0.58, [0.02, 0.00, -0.30, -0.40, -0.50]),
    (0.585, [-0.02, -0.34, -0.44, -0.58]), (0.592, [-0.04, 0.01, -0.10, -0.20, -0.28, -0.40, -0.48, -0.56, -0.62, -0.70]), (0.596, [-0.06, -0.14, -0.22, -0.32, -0.42, -0.50, -0.68, -0.80, -0.88, -1.10]),
    (0.604, [-0.30, -0.40, -0.50, -0.60, -0.74, -0.80]), (0.612, [-0.36, -0.44, -0.52, -0.62, -0.68, -0.74, -0.80]), (0.618, [-0.42, -0.50, -0.62, -0.66, -0.72, -0.82, -0.96, -1.00]),
    (0.62, [-0.20, -0.24, -0.40, -0.46, -0.54, -0.78, -0.90]), (0.625, [-0.30, -0.40, -0.52, -0.60, -0.72]),
    (0.646, [-0.64, -0.46, -0.68, -0.92]), (0.652, [-0.62, -0.60, -0.74]), (0.656, [-0.58, -0.68, -0.72, -0.90]), (0.66, [-0.50, -0.62]),
    (0.664, [-0.26, -0.31, -0.36, -0.40, -0.44, -0.48, -0.52, -0.54, -0.56, -0.58, -0.60, -0.62, -0.64, -0.66, -0.68, -0.70, -0.72, -0.74, -0.76, -0.78, -0.80, -0.82, -0.84, -0.86, -0.88, -0.90, -0.92, -0.94, -0.96, -0.98, -1.00, -1.02, -1.04, -1.06, -1.08, -1.10, -1.14, -1.18, -1.25]),
    (0.668, [-0.25, -0.30, -0.35, -0.70, -0.80, -1.00, -1.12, -1.27]), (0.678, [-0.46, -0.50, -0.56, -0.60, -0.66, -0.72, -0.78, -0.84, -0.90, -0.96, -1.02, -1.06, -1.10, -1.14, -1.20, -1.27]),
    (0.682, [-0.50, -0.58, -0.64, -0.70, -0.76, -0.82, -0.88, -0.94, -1.00, -1.08, -1.13, -1.20, -1.36, -1.32]), (0.69, [-0.76, -0.82, -0.72]),
    (0.7, [-0.72, -0.78, -0.84, -0.88, -0.92, -0.96, -1.02, -1.08, -1.14]), (0.708, [-0.64, -0.70, -0.74, -0.80, -0.86, -0.92, -0.98, -1.04, -1.10, -1.15, -1.22]),
    (0.713, [-0.28, -0.34, -0.62, -0.68, -0.74, -0.78, -0.84, -0.90, -0.96, -1.02, -1.08, -1.12, -1.18]), (0.72, [-0.53, -0.58, -0.62, -0.66, -0.72, -0.78, -0.84, -0.90, -0.96, -1.02, -1.08, -1.14, -1.20, -1.25, -1.31]),
    (0.765, [-0.68, -0.70, -0.78, -0.98, -1.02, -1.06, -1.10, -1.14, -1.18]), (0.772, [-0.58, -0.65]), (0.783, [-0.86, -0.90]), (0.79, [-1.00, -1.22, -0.93, -1.18]),
    (0.8, [-0.88, -0.96, -1.24, -1.01]), (0.804, [-0.45, -0.52, -1.12]), (0.816, [-0.30]), (0.82, [-0.62, -0.68, -0.58]), (0.826, [-0.62]), (0.837, [-0.65]),
    (0.848, [-0.92, -0.96, -0.50, -0.52, -0.70]), (0.853, [-0.22, -0.52, -0.60, -0.66, -0.74, -0.85]), (0.858, [-0.53, -0.58, -0.64, -0.72, -0.78, -0.80, -0.90, -1.20, -0.98]),
    (0.862, [-0.26, -0.36, -0.44, -0.50, -0.60, -0.66, -0.94, -1.02]), (0.87, [-1.00, -0.48, -0.74]), (0.88, [-0.34, -0.44, -0.50, -0.60, -0.66, -0.72, -0.82, -0.88, -0.98]),
    (0.89, [-0.46, -0.52, -0.58, -0.64, -0.70, -0.75, -0.86, -1.00]), (0.897, [-0.30, -0.42, -0.48, -0.54, -0.60, -0.66, -0.72, -0.78, -0.84]), (0.904, [-0.23, -0.30, -0.36, -0.44, -0.52, -0.58, -0.66, -0.74, -0.82, -0.86]),
    (0.91, [-0.14, -0.24, -0.40, -0.46, -0.62, -0.70, -0.78, -0.84]), (0.918, [-0.20, -0.34, -0.42, -0.46, -0.68, -0.80]), (0.927, [-0.17, -0.22, -0.34, -0.42]),
    (0.934, [-0.38, -0.20]), (0.96, [0.07, -0.03, -0.28, -0.42, -0.52]), (0.97, [0.36, 0.33, 0.05, 0.00, -0.12, -0.18, -0.22, -0.54]),
    (0.975, [0.37, 0.30, 0.12, 0.02, -0.08, -0.15, -0.25, -0.35, -0.40]), (0.981, [0.18, 0.14, 0.10, 0.05, 0.00, -0.05, -0.10, -0.15, -0.20, -0.25, -0.30, -0.36, -0.65]),
    (0.984, [0.12, 0.06, 0.00, -0.06, -0.12, -0.18, -0.24, -0.30, -0.34]), (0.99, [-0.05, -0.13, -0.20, -0.27, -0.02]), (0.997, [0.30, 0.24, 0.00, -0.10, -0.28]), (1.0, [0.34, 0.15, 0.05, -0.19]),
]

time_range_top = (54851, 56062)
time_range_bottom = (54872, 55965)
phase_range = (-0.04, 1.04)
mag_range_top = (-1.555, 1.527)
mag_range_bottom = (-1.48, 1.513)

mag_ticks_top = [-1.5, -1.0, -0.5, 0.0, 0.5, 1.0, 1.5]
mag_ticks_bottom = [-1.0, -0.5, 0.0, 0.5, 1.0, 1.5]
time_ticks = [55000, 55200, 55400, 55600, 55800, 56000]
time_labels = {55000: "55000", 55200: "", 55400: "55400", 55600: "", 55800: "55800", 56000: ""}
phase_ticks = [0.0, 0.2, 0.4, 0.6, 0.8, 1.0]
phase_labels = {0: "0.0", 0.2: "0.2", 0.4: "0.4", 0.6: "0.6", 0.8: "0.8", 1: "1.0"}

FONT = "Liberation Sans"


def make_panel(columns, x_range, y_range, width, height, borders, y_ticks, x_ticks, x_labels, show_mag=False):
    # borders is left, right, top, bottom
    p = figure(width=width, height=height, x_range=x_range, y_range=y_range,
               min_border_left=borders[0], min_border_right=borders[1],
               min_border_top=borders[2], min_border_bottom=borders[3],
               tools="", toolbar_location=None, output_backend="svg")
    xs, ys = [], []
    for x, mags in columns:
        for m in mags:
            xs.append(x)
            ys.append(m)
    source = ColumnDataSource(data=dict(x=xs, y=ys))
    p.scatter("x", "y", source=source, size=8, color="black", line_width=0)

    p.grid.visible = False
    p.outline_line_color = "black"
    p.outline_line_width = 1.4
    p.background_fill_color = "white"
    p.border_fill_color = None

    p.xaxis.ticker = FixedTicker(ticks=x_ticks)
    p.xaxis.major_label_overrides = x_labels
    p.yaxis.ticker = FixedTicker(ticks=y_ticks)
    p.yaxis.formatter = PrintfTickFormatter(format="%.1f")
    if not show_mag:
        # the right panels keep their ticks but have no numbers
        p.yaxis.major_label_overrides = {t: "" for t in y_ticks}
        p.yaxis.major_label_standoff = 0

    for ax in (p.xaxis[0], p.yaxis[0]):
        ax.axis_line_color = None
        ax.major_tick_in = 0
        ax.major_tick_out = 9
        ax.major_tick_line_width = 1.4
        ax.major_tick_line_color = "black"
        ax.minor_tick_line_color = None
        ax.major_label_text_color = "black"
        ax.major_label_text_outline_color = "black"
        ax.major_label_text_font = FONT
        ax.major_label_text_font_style = "bold"
        ax.major_label_text_font_size = "29px"
        ax.axis_label_text_color = "black"
        ax.axis_label_text_outline_color = "black"
        ax.axis_label_text_font = FONT
        ax.axis_label_text_font_style = "bold"
        ax.axis_label_text_font_size = "29px"
    p.xaxis.major_label_standoff = 5
    if show_mag:
        p.yaxis.major_label_standoff = 7
        p.yaxis.axis_label = "Magnitude"
        p.yaxis.axis_label_standoff = 7
    return p


def outside_text(p, x, y, text, size="29px", style="bold", angle=0.0):
    # text that lies outside the frame, placed in the panel's own data units
    r = p.text([x], [y], text=[text], text_font=value(FONT), text_font_size=size, text_font_style=style,
               text_color="black", text_outline_color="black", text_align="center",
               text_baseline="middle", angle=angle)
    r.level = "annotation"


top_left = make_panel(regular_time, time_range_top, mag_range_top, 661, 510, (111, 4, 8, 49),
                      mag_ticks_top, time_ticks, time_labels, show_mag=True)
top_right = make_panel(regular_phase, phase_range, mag_range_top, 600, 510, (12, 42, 8, 49),
                       mag_ticks_top, phase_ticks, phase_labels)
bottom_left = make_panel(skycam_time, time_range_bottom, mag_range_bottom, 661, 555, (111, 4, 14, 88),
                         mag_ticks_bottom, time_ticks, time_labels, show_mag=True)
bottom_right = make_panel(skycam_phase, phase_range, mag_range_bottom, 600, 555, (12, 42, 14, 88),
                          mag_ticks_bottom, phase_ticks, phase_labels)

outside_text(bottom_left, 55404, -1.872, "Time (MJD)")
outside_text(bottom_right, 0.5, -1.872, "Phase")
outside_text(top_right, 1.079, -0.027, "Regular Cadence", "33px", "normal", pi / 2)
outside_text(bottom_right, 1.079, 0.053, "Skycam Cadence", "33px", "normal", pi / 2)

top_row = row(top_left, top_right, margin=(0, 0, 0, -6))
bottom_row = row(bottom_left, bottom_right, margin=(-10, 0, 0, -6))
layout = column(top_row, bottom_row, margin=(0, 0, -14, 0))

open("out.html", "w").write(file_html(layout, INLINE))
